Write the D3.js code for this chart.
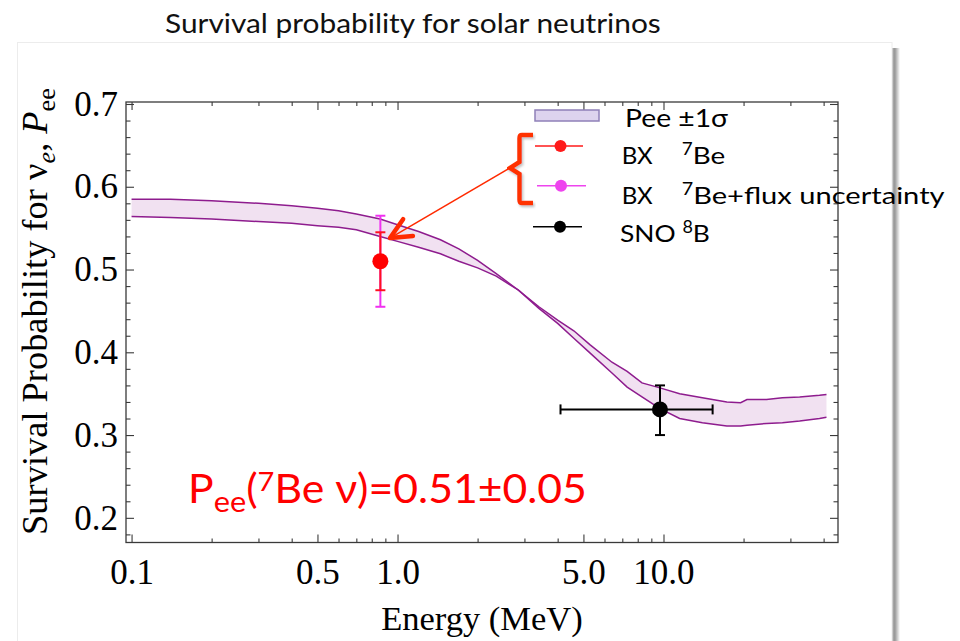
<!DOCTYPE html>
<html>
<head>
<meta charset="utf-8">
<script src="https://cdnjs.cloudflare.com/ajax/libs/d3/7.8.5/d3.min.js"></script>
<style>
  body { margin: 0; background: #fff; }
  svg { display: block; }
</style>
</head>
<body>
<div class="chart"></div>
<script>
// Pee band (+-1 sigma)
var energy   = [0.1, 0.14, 0.2, 0.3, 0.4, 0.5, 0.6, 0.7, 0.86, 1.0, 1.2, 1.45, 1.7, 2.0, 2.35, 2.85, 3.4, 4.0, 4.6, 5.3, 6.4, 7.3, 8.3, 9.7, 11.5, 14, 17.3, 19.5, 20.6, 24.4, 28, 32.5, 38.6, 41];
var peeUpper = [0.585, 0.585, 0.583, 0.580, 0.577, 0.574, 0.571, 0.567, 0.561, 0.554, 0.546, 0.536, 0.525, 0.511, 0.495, 0.475, 0.455, 0.439, 0.426, 0.409, 0.388, 0.377, 0.363, 0.357, 0.350, 0.345, 0.340, 0.339, 0.343, 0.343, 0.345, 0.346, 0.348, 0.349];
var peeLower = [0.564, 0.563, 0.561, 0.558, 0.556, 0.553, 0.551, 0.548, 0.540, 0.534, 0.527, 0.519, 0.510, 0.502, 0.492, 0.475, 0.453, 0.435, 0.417, 0.399, 0.375, 0.358, 0.346, 0.332, 0.320, 0.315, 0.311, 0.311, 0.312, 0.314, 0.315, 0.317, 0.320, 0.3215];

// measurements
var bxEnergy = 0.862, bxPee = 0.51;
var bxStat = [0.475, 0.545];
var bxFlux = [0.455, 0.565];
var snoEnergy = 9.7, snoPee = 0.331;
var snoErrE = [4.1, 15.3];
var snoErrP = [0.300, 0.360];

// axes
var xMajor = [0.1, 0.5, 1, 5, 10];
var xLabels = ["0.1", "0.5", "1.0", "5.0", "10.0"];
var yMajor = [0.2, 0.3, 0.4, 0.5, 0.6, 0.7];
var yLabels = ["0.2", "0.3", "0.4", "0.5", "0.6", "0.7"];

var svgWidth = 960, svgHeight = 641;
var margin = { top: 102, right: 122, bottom: 98.5, left: 126 };
var width = svgWidth - margin.left - margin.right;
var height = svgHeight - margin.top - margin.bottom;

var serif = "'Times New Roman', 'Liberation Serif', serif";
var sans = "Lato, Carlito, 'Open Sans', sans-serif";

var svg = d3.select(".chart").append("svg")
    .attr("width", svgWidth).attr("height", svgHeight);

// slide picture box + right shadow
var defs = svg.append("defs");
var grad = defs.append("linearGradient").attr("id", "shadow");
grad.append("stop").attr("offset", "0").attr("stop-color", "#b4b4b4");
grad.append("stop").attr("offset", "0.35").attr("stop-color", "#979797");
grad.append("stop").attr("offset", "1").attr("stop-color", "#ffffff");
defs.append("filter").attr("id", "drop")
    .append("feDropShadow").attr("dx", 1.5).attr("dy", 2).attr("stdDeviation", 1.2)
    .attr("flood-color", "#888").attr("flood-opacity", 0.5);

svg.append("rect").attr("x", 892).attr("y", 48).attr("width", 8).attr("height", 600)
    .attr("fill", "url(#shadow)");
svg.append("rect").attr("x", 17.5).attr("y", 42.5).attr("width", 874.5).attr("height", 610)
    .attr("fill", "#fff").attr("stroke", "#ececec");

// stretch a text horizontally so it spans w pixels
function stretchTo(t, x0, y0, w) {
    var len = t.node().getComputedTextLength();
    t.attr("transform", "translate(" + x0 + "," + y0 + ") scale(" + (w / len) + ",1)");
}

var title = svg.append("text").attr("font-family", sans).attr("font-size", 27).attr("fill", "#111")
    .text("Survival probability for solar neutrinos");
stretchTo(title, 165, 33, 496);

var x = d3.scaleLog().domain([0.0953, 45.3]).range([margin.left, margin.left + width]);
var y = d3.scaleLinear().domain([0.1702, 0.7024]).range([margin.top + height, margin.top]);

var xMinor = [];
[0.1, 1, 10].forEach(function(dec) {
    for (var m = 2; m <= 9; m++) {
        var v = dec * m;
        if (m !== 5 && v < 45) xMinor.push(v);
    }
});
var yMinor = d3.range(9, 36).filter(function(i) { return i % 5 !== 0; }).map(function(i) { return i * 0.02; });

function styleAxis(g) {
    g.select(".domain").remove();
    g.attr("color", "#3a3a3a").attr("font-family", serif).attr("font-size", 35);
    g.selectAll("line").attr("stroke-width", 1.1);
    g.selectAll("text").attr("fill", "#000");
}

var bottom = margin.top + height, right = margin.left + width;

svg.append("g").attr("transform", "translate(0," + bottom + ")")
    .call(d3.axisBottom(x).tickValues(xMinor).tickSize(-4).tickSizeOuter(0).tickFormat(""))
    .call(styleAxis);
svg.append("g").attr("transform", "translate(0," + bottom + ")")
    .call(d3.axisBottom(x).tickValues(xMajor).tickSize(-8).tickSizeOuter(0).tickPadding(16.5)
        .tickFormat(function(d, i) { return xLabels[i]; }))
    .call(styleAxis);
svg.append("g").attr("transform", "translate(0," + margin.top + ")")
    .call(d3.axisTop(x).tickValues(xMinor).tickSize(-4).tickSizeOuter(0).tickFormat(""))
    .call(styleAxis);
svg.append("g").attr("transform", "translate(0," + margin.top + ")")
    .call(d3.axisTop(x).tickValues(xMajor).tickSize(-8).tickSizeOuter(0).tickFormat(""))
    .call(styleAxis);

svg.append("g").attr("transform", "translate(" + margin.left + ",0)")
    .call(d3.axisLeft(y).tickValues(yMinor).tickSize(-4.5).tickSizeOuter(0).tickFormat(""))
    .call(styleAxis);
svg.append("g").attr("transform", "translate(" + margin.left + ",0)")
    .call(d3.axisLeft(y).tickValues(yMajor).tickSize(-8).tickSizeOuter(0).tickPadding(8)
        .tickFormat(function(d, i) { return yLabels[i]; }))
    .call(styleAxis);
svg.append("g").attr("transform", "translate(" + right + ",0)")
    .call(d3.axisRight(y).tickValues(yMinor).tickSize(-4.5).tickSizeOuter(0).tickFormat(""))
    .call(styleAxis);
svg.append("g").attr("transform", "translate(" + right + ",0)")
    .call(d3.axisRight(y).tickValues(yMajor).tickSize(-8).tickSizeOuter(0).tickFormat(""))
    .call(styleAxis);

// band
var band = energy.map(function(e, i) { return { e: e, lo: peeLower[i], hi: peeUpper[i] }; });
svg.append("path").datum(band)
    .attr("d", d3.area().x(function(d) { return x(d.e); })
        .y0(function(d) { return y(d.lo); }).y1(function(d) { return y(d.hi); }))
    .attr("fill", "#f1e1f1");
["hi", "lo"].forEach(function(k) {
    svg.append("path").datum(band)
        .attr("d", d3.line().x(function(d) { return x(d.e); }).y(function(d) { return y(d[k]); }))
        .attr("fill", "none").attr("stroke", "#8e1c8e").attr("stroke-width", 1.5);
});

// frame
svg.append("rect").attr("x", margin.left).attr("y", margin.top)
    .attr("width", width).attr("height", height)
    .attr("fill", "none").attr("stroke", "#3a3a3a").attr("stroke-width", 1.3);

// error bars
var cap = 5;
function vBar(e, range, color) {
    var g = svg.append("g").attr("stroke", color).attr("stroke-width", 2);
    g.append("line").attr("x1", x(e)).attr("x2", x(e)).attr("y1", y(range[0])).attr("y2", y(range[1]));
    range.forEach(function(v) {
        g.append("line").attr("x1", x(e) - cap).attr("x2", x(e) + cap).attr("y1", y(v)).attr("y2", y(v));
    });
}
function hBar(p, range, color) {
    var g = svg.append("g").attr("stroke", color).attr("stroke-width", 2);
    g.append("line").attr("x1", x(range[0])).attr("x2", x(range[1])).attr("y1", y(p)).attr("y2", y(p));
    range.forEach(function(v) {
        g.append("line").attr("x1", x(v)).attr("x2", x(v)).attr("y1", y(p) - cap).attr("y2", y(p) + cap);
    });
}
vBar(bxEnergy, bxFlux, "#f030f0");
vBar(bxEnergy, bxStat, "#ff1020");
svg.append("circle").attr("cx", x(bxEnergy)).attr("cy", y(bxPee)).attr("r", 8).attr("fill", "#ff0000");

hBar(snoPee, snoErrE, "#000");
vBar(snoEnergy, snoErrP, "#000");
svg.append("circle").attr("cx", x(snoEnergy)).attr("cy", y(snoPee)).attr("r", 8).attr("fill", "#000");

// legend
var legend = svg.append("g").attr("font-family", sans).attr("fill", "#000");
legend.append("rect").attr("x", 535).attr("y", 110).attr("width", 64).attr("height", 11)
    .attr("fill", "#ddd3ee").attr("stroke", "#8f80b8").attr("stroke-width", 1.5);
var t1 = legend.append("text").attr("font-size", 25).text("Pee \u00b11\u03c3");
stretchTo(t1, 625, 127, 103);

var rows = [
    { color: "#ff1a1a", ly: 146, x1: 535, x2: 583, cx: 560.5, base: 164 },
    { color: "#ee44ee", ly: 185.7, x1: 537, x2: 586, cx: 561, base: 204 },
    { color: "#000000", ly: 226.7, x1: 533, x2: 582, cx: 560, base: 242 }
];
rows.forEach(function(r) {
    legend.append("line").attr("x1", r.x1).attr("x2", r.x2).attr("y1", r.ly).attr("y2", r.ly)
        .attr("stroke", r.color).attr("stroke-width", 1.6);
    legend.append("circle").attr("cx", r.cx).attr("cy", r.ly).attr("r", 6).attr("fill", r.color);
});

function supText(parent, sup, rest, size) {
    var t = parent.append("text").attr("font-size", size);
    t.append("tspan").attr("font-size", "68%").attr("dy", "-0.55em").text(sup);
    t.append("tspan").attr("dy", "0.37em").text(rest);
    return t;
}
var legendSize = 24;
var bx1 = legend.append("text").attr("font-size", legendSize).text("BX");
stretchTo(bx1, 621.7, rows[0].base, 31);
var be1 = supText(legend, "7", "Be", legendSize);
stretchTo(be1, 681.7, rows[0].base, 43.5);
var bx2 = legend.append("text").attr("font-size", legendSize).text("BX");
stretchTo(bx2, 621.7, rows[1].base, 31);
var be2 = supText(legend, "7", "Be+flux uncertainty", legendSize);
stretchTo(be2, 681.7, rows[1].base, 263);
var sno = legend.append("text").attr("font-size", legendSize);
sno.append("tspan").text("SNO ");
sno.append("tspan").attr("font-size", "68%").attr("dy", "-0.55em").text("8");
sno.append("tspan").attr("dy", "0.37em").text("B");
stretchTo(sno, 620, rows[2].base, 90);

// bracket and arrow
var tipX = 510, tipY = 168;
svg.append("path")
    .attr("d", "M533,135 L522,135 Q519.5,135 519.5,138 L519.5,162 L" + tipX + "," + tipY +
        " L519.5,174 L519.5,200 Q519.5,203 522,203 L533,203")
    .attr("fill", "none").attr("stroke", "#ff3300").attr("stroke-width", 4.5)
    .attr("filter", "url(#drop)");

var arrowE = 0.937, arrowP = 0.538;
var ax = x(arrowE), ay = y(arrowP);
svg.append("line").attr("x1", tipX).attr("y1", tipY).attr("x2", ax).attr("y2", ay)
    .attr("stroke", "#ff2a00").attr("stroke-width", 1.5);
var ang = Math.atan2(tipY - ay, tipX - ax);
var arm = 23, spread = 25 * Math.PI / 180;
svg.append("path")
    .attr("d", "M" + (ax + arm * Math.cos(ang - spread)) + "," + (ay + arm * Math.sin(ang - spread)) +
        " L" + ax + "," + ay +
        " L" + (ax + arm * Math.cos(ang + spread)) + "," + (ay + arm * Math.sin(ang + spread)))
    .attr("fill", "none").attr("stroke", "#ff2a00").attr("stroke-width", 4.5)
    .attr("stroke-linecap", "round").attr("stroke-linejoin", "round");

// annotation
var note = svg.append("text").attr("font-family", sans).attr("font-size", 40).attr("fill", "#ff0000");
note.append("tspan").text("P");
note.append("tspan").attr("font-size", "72%").attr("dy", "0.32em").text("ee");
note.append("tspan").attr("dy", "-0.23em").text("(");
note.append("tspan").attr("font-size", "68%").attr("dy", "-0.45em").text("7");
note.append("tspan").attr("dy", "0.31em").text("Be \u03bd)=0.51\u00b10.05");
stretchTo(note, 188, 503, 399);

// axis titles
var xt = svg.append("text").attr("font-family", serif).attr("font-size", 34.5)
    .attr("text-anchor", "middle").attr("x", (margin.left + right) / 2).attr("y", 630)
    .text("Energy (MeV)");

var yt = svg.append("text").attr("font-family", serif).attr("font-size", 31)
    .attr("text-anchor", "middle")
    .attr("transform", "translate(47,311.5) rotate(-90)");
yt.append("tspan").text("Survival Probability for \u03bd");
yt.append("tspan").attr("font-style", "italic").attr("font-size", "72%").attr("dy", "0.3em").text("e");
yt.append("tspan").attr("dy", "-0.22em").text(", ");
yt.append("tspan").attr("font-style", "italic").text("P");
yt.append("tspan").attr("font-size", "72%").attr("dy", "0.3em").text("ee");
var ylen = yt.node().getComputedTextLength();
yt.attr("font-size", 31 * 447 / ylen);
</script>
</body>
</html>
